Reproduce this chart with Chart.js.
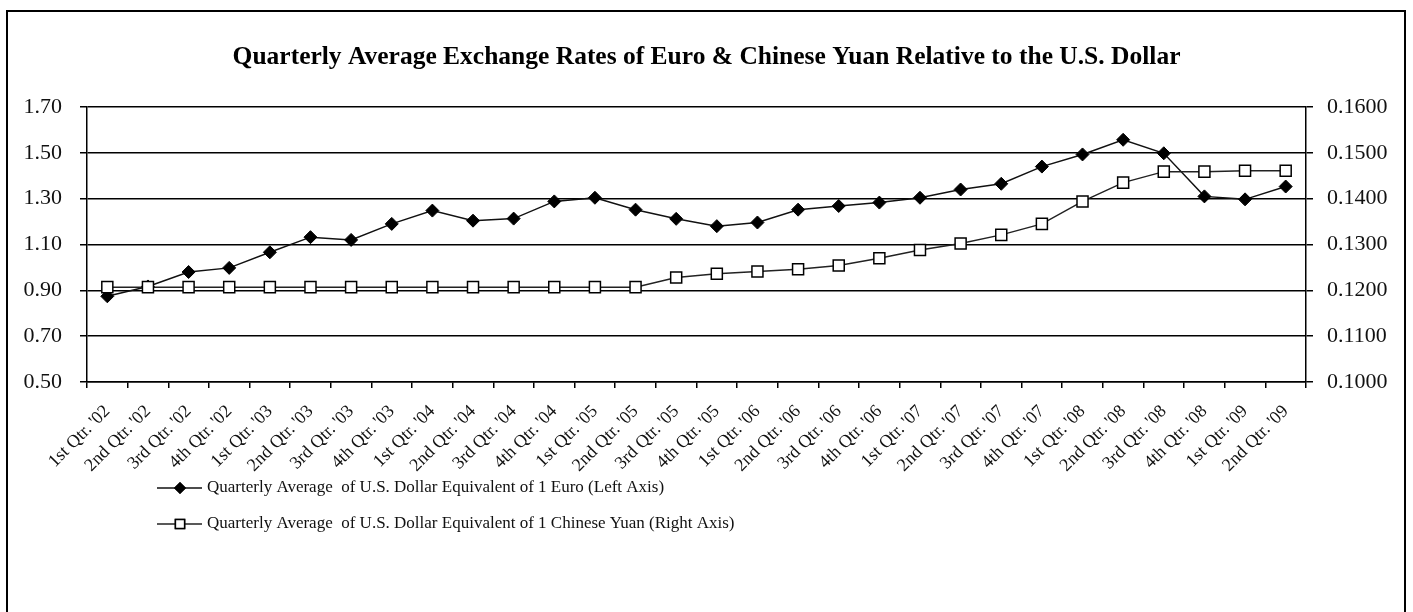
<!DOCTYPE html>
<html>
<head>
<meta charset="utf-8">
<script src="https://cdn.jsdelivr.net/npm/chart.js@4"></script>
<style>
  html, body { margin: 0; padding: 0; background: #fff; overflow: hidden; }
  #wrap { position: relative; width: 1413px; height: 612px; }
  #frame { position: absolute; left: 6px; top: 10px; width: 1400px; height: 620px; border: 2px solid #000; box-sizing: border-box; pointer-events: none; }
  canvas { position: absolute; left: 0; top: 0; }
</style>
</head>
<body>
<div id="wrap">
  <canvas id="chart" width="1413" height="612"></canvas>
  <div id="frame"></div>
</div>
<script>
const quarters = [
  "1st Qtr. '02", "2nd Qtr. '02", "3rd Qtr. '02", "4th Qtr. '02",
  "1st Qtr. '03", "2nd Qtr. '03", "3rd Qtr. '03", "4th Qtr. '03",
  "1st Qtr. '04", "2nd Qtr. '04", "3rd Qtr. '04", "4th Qtr. '04",
  "1st Qtr. '05", "2nd Qtr. '05", "3rd Qtr. '05", "4th Qtr. '05",
  "1st Qtr. '06", "2nd Qtr. '06", "3rd Qtr. '06", "4th Qtr. '06",
  "1st Qtr. '07", "2nd Qtr. '07", "3rd Qtr. '07", "4th Qtr. '07",
  "1st Qtr. '08", "2nd Qtr. '08", "3rd Qtr. '08", "4th Qtr. '08",
  "1st Qtr. '09", "2nd Qtr. '09"
];

// USD per 1 Euro (left axis)
const euroRates = [
  0.874, 0.917, 0.980, 0.998, 1.066, 1.132, 1.120, 1.190,
  1.248, 1.204, 1.213, 1.288, 1.304, 1.252, 1.212, 1.180,
  1.196, 1.252, 1.268, 1.283, 1.304, 1.340, 1.365, 1.440,
  1.493, 1.557, 1.498, 1.310, 1.297, 1.353
];

// USD per 1 Chinese Yuan (right axis)
const yuanRates = [
  0.1207, 0.1207, 0.1207, 0.1207, 0.1207, 0.1207, 0.1207, 0.1207,
  0.1207, 0.1207, 0.1207, 0.1207, 0.1207, 0.1207, 0.1228, 0.1236,
  0.1241, 0.1246, 0.1254, 0.1270, 0.1288, 0.1302, 0.1321, 0.1345,
  0.1394, 0.1435, 0.1459, 0.1459, 0.1461, 0.1461
];

const leftTicks = { min: 0.5, max: 1.7, step: 0.2 };
const rightTicks = { min: 0.10, max: 0.16, step: 0.01 };

const chartTitle = 'Quarterly Average Exchange Rates of Euro & Chinese Yuan Relative to the U.S. Dollar';
const euroLabel = 'Quarterly Average  of U.S. Dollar Equivalent of 1 Euro (Left Axis)';
const yuanLabel = 'Quarterly Average  of U.S. Dollar Equivalent of 1 Chinese Yuan (Right Axis)';

const serif = "'Liberation Serif', 'Times New Roman', serif";

// legend stacked under the x labels, like the Excel original
const stackedLegend = {
  id: 'stackedLegend',
  afterDraw(chart) {
    const ctx = chart.ctx;
    const rows = [488, 524];
    ctx.save();
    chart.data.datasets.forEach((ds, i) => {
      const y = rows[i];
      ctx.strokeStyle = ds.borderColor;
      ctx.lineWidth = 1.5;
      ctx.beginPath();
      ctx.moveTo(157, y);
      ctx.lineTo(202, y);
      ctx.stroke();
      Chart.helpers.drawPoint(ctx, {
        pointStyle: ds.pointStyle,
        radius: ds.pointStyle === 'rect' ? 6.5 : 5,
        rotation: 0,
        borderWidth: 1.3
      }, 180, y);
      ctx.fillStyle = ds.pointBackgroundColor;
      ctx.strokeStyle = ds.pointBorderColor;
      ctx.fill();
      ctx.stroke();
      ctx.fillStyle = '#111';
      ctx.font = '17px ' + serif;
      ctx.textBaseline = 'middle';
      ctx.textAlign = 'left';
      ctx.fillText(ds.label, 207, y);
    });
    ctx.restore();
  }
};

const ctx = document.getElementById('chart').getContext('2d');
new Chart(ctx, {
  type: 'line',
  data: {
    labels: quarters,
    datasets: [
      {
        label: euroLabel,
        data: euroRates,
        yAxisID: 'y',
        borderColor: '#111',
        borderWidth: 1.5,
        pointStyle: 'rectRot',
        pointRadius: 6.5,
        pointBackgroundColor: '#000',
        pointBorderColor: '#000',
        pointBorderWidth: 1,
        tension: 0,
        order: 2
      },
      {
        label: yuanLabel,
        data: yuanRates,
        yAxisID: 'y1',
        borderColor: '#222',
        borderWidth: 1.5,
        pointStyle: 'rect',
        pointRadius: 7.8,
        pointBackgroundColor: '#fff',
        pointBorderColor: '#000',
        pointBorderWidth: 1.5,
        tension: 0,
        order: 1
      }
    ]
  },
  options: {
    responsive: false,
    animation: false,
    devicePixelRatio: 1,
    layout: { padding: { top: 10, left: 0, right: 0, bottom: 0 } },
    plugins: {
      legend: { display: false },
      tooltip: { enabled: false },
      title: {
        display: true,
        text: chartTitle,
        color: '#000',
        font: { family: serif, size: 25.5, weight: 'bold', lineHeight: 1.2 },
        padding: { top: 32, bottom: 34.4 }
      }
    },
    scales: {
      x: {
        type: 'category',
        offset: true,
        afterFit: (scale) => { scale.height = 230; },
        grid: { offset: true, drawOnChartArea: false, drawTicks: true, tickLength: 6, color: '#000', lineWidth: 1.5 },
        border: { display: true, color: '#000', width: 1.5 },
        ticks: {
          autoSkip: false,
          minRotation: 45,
          maxRotation: 45,
          padding: 13,
          color: '#111',
          font: { family: serif, size: 18 }
        }
      },
      y: {
        position: 'left',
        min: leftTicks.min,
        max: leftTicks.max,
        afterFit: (scale) => { scale.width = 87; },
        afterBuildTicks: (scale) => {
          const t = [];
          for (let v = leftTicks.min; v <= leftTicks.max + 1e-9; v += leftTicks.step) t.push({ value: +v.toFixed(2) });
          scale.ticks = t;
        },
        grid: { color: '#000', lineWidth: 1.5, tickLength: 7, drawTicks: true },
        border: { display: true, color: '#000', width: 1.5 },
        ticks: {
          padding: 18,
          color: '#111',
          font: { family: serif, size: 22 },
          callback: (v) => Number(v).toFixed(2)
        }
      },
      y1: {
        position: 'right',
        min: rightTicks.min,
        max: rightTicks.max,
        afterFit: (scale) => { scale.width = 107; },
        afterBuildTicks: (scale) => {
          const t = [];
          for (let v = rightTicks.min; v <= rightTicks.max + 1e-9; v += rightTicks.step) t.push({ value: +v.toFixed(4) });
          scale.ticks = t;
        },
        grid: { drawOnChartArea: false, color: '#000', lineWidth: 1.5, tickLength: 7, drawTicks: true },
        border: { display: true, color: '#000', width: 1.5 },
        ticks: {
          padding: 14,
          color: '#111',
          font: { family: serif, size: 22 },
          callback: (v) => Number(v).toFixed(4)
        }
      }
    }
  },
  plugins: [stackedLegend]
});
</script>
</body>
</html>
